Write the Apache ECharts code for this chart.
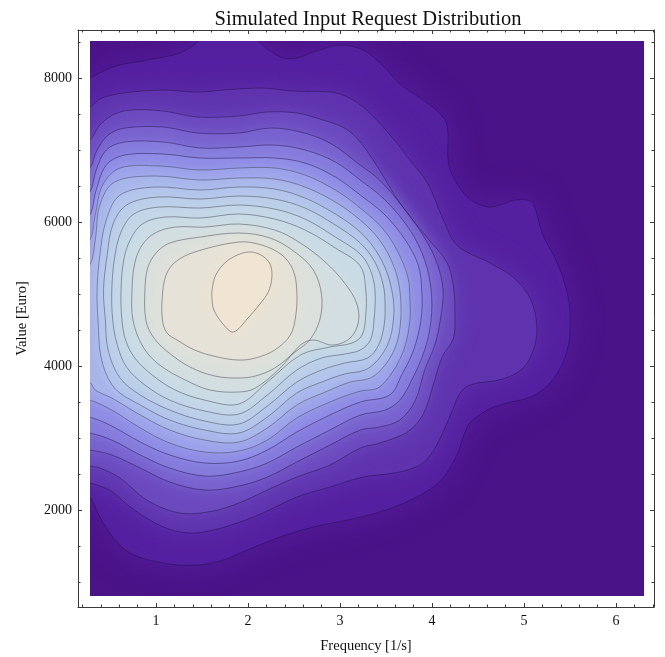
<!DOCTYPE html>
<html><head><meta charset="utf-8">
<script src="https://cdn.jsdelivr.net/npm/echarts@6/dist/echarts.min.js"></script>
<style>html,body{margin:0;padding:0;background:#fff}#c{width:665px;height:657px}</style>
</head><body><div id="c"></div>
<script>
// ---- tick values ----
const xMajorTicks = [1, 2, 3, 4, 5, 6];
const xMinorTicks = [0.2,0.4,0.6,0.8,1.2,1.4,1.6,1.8,2.2,2.4,2.6,2.8,3.2,3.4,3.6,3.8,4.2,4.4,4.6,4.8,5.2,5.4,5.6,5.8,6.2,6.4];
const yMajorTicks = [2000, 4000, 6000, 8000];
const yMinorTicks = [1000,1500,2500,3000,3500,4500,5000,5500,6500,7000,7500,8500];

// ---- contour lines of the density (outermost first), [frequency, value] ----
const contour1 = [[0.17,7972],[0.28,8000],[0.53,8153],[0.90,8250],[1.26,8347],[1.46,8514],[1.54,8666],[2.02,8666],[2.11,8514],[2.35,8292],[2.53,8278],[2.71,8361],[3.00,8458],[3.25,8389],[3.47,8167],[3.65,7917],[3.95,7653],[4.12,7458],[4.17,7305],[4.18,6805],[4.27,6541],[4.41,6319],[4.61,6208],[4.77,6250],[4.90,6305],[5.07,6291],[5.12,6194],[5.20,5833],[5.32,5541],[5.42,5236],[5.49,4875],[5.50,4527],[5.47,4222],[5.37,3916],[5.25,3722],[5.07,3569],[4.77,3472],[4.60,3388],[4.41,3208],[4.34,3013],[4.27,2764],[4.09,2402],[3.79,2152],[3.43,1972],[3.08,1861],[2.71,1764],[2.35,1625],[1.99,1444],[1.73,1305],[1.45,1236],[1.08,1264],[0.72,1402],[0.53,1625],[0.39,1902],[0.28,2180],[0.17,2208]];
const contour2 = [[0.17,7583],[0.28,7597],[0.39,7708],[0.53,7764],[0.72,7805],[1.08,7833],[1.45,7805],[1.73,7833],[2.16,7861],[2.49,7819],[2.89,7805],[3.08,7736],[3.29,7555],[3.58,7153],[3.76,6861],[3.95,6541],[4.12,6041],[4.27,5680],[4.63,5430],[4.88,5236],[5.07,4930],[5.14,4527],[5.10,4222],[4.99,3972],[4.77,3819],[4.41,3736],[4.30,3611],[4.20,3319],[4.05,2902],[3.90,2653],[3.65,2528],[3.25,2458],[2.89,2319],[2.53,2180],[2.16,1958],[1.88,1819],[1.62,1722],[1.37,1680],[1.08,1764],[0.72,2041],[0.53,2250],[0.39,2333],[0.28,2375],[0.17,2375]];
const contour3 = [[0.17,7125],[0.28,7139],[0.39,7347],[0.53,7486],[0.72,7555],[1.08,7541],[1.45,7458],[1.90,7472],[2.21,7528],[2.53,7514],[2.78,7430],[3.05,7305],[3.22,7111],[3.43,6722],[3.65,6264],[3.95,5778],[4.16,5444],[4.23,5125],[4.25,4722],[4.23,4375],[4.11,4125],[4.01,3722],[3.90,3319],[3.73,3083],[3.43,2930],[3.22,2861],[2.89,2625],[2.53,2458],[2.21,2278],[1.90,2097],[1.62,1986],[1.26,1958],[0.90,2139],[0.61,2444],[0.39,2583],[0.28,2611],[0.17,2611]];
const contour4 = [[0.17,6736],[0.28,6750],[0.36,7000],[0.48,7208],[0.66,7305],[1.08,7319],[1.45,7236],[1.90,7236],[2.24,7305],[2.57,7250],[2.89,7097],[3.22,6791],[3.43,6583],[3.71,6166],[3.92,5778],[4.05,5444],[4.12,5055],[4.09,4639],[4.03,4291],[3.92,3944],[3.82,3527],[3.65,3250],[3.43,3153],[3.22,3111],[2.89,2902],[2.53,2667],[2.21,2458],[1.90,2333],[1.53,2278],[1.15,2389],[0.83,2583],[0.52,2764],[0.28,2833],[0.17,2833]];
const contour5 = [[0.17,6403],[0.28,6416],[0.35,6722],[0.46,7000],[0.66,7111],[1.08,7111],[1.48,7028],[1.90,7041],[2.27,7069],[2.62,7000],[2.95,6833],[3.22,6583],[3.49,6305],[3.76,5889],[3.92,5472],[3.99,5055],[3.99,4639],[3.92,4222],[3.78,3805],[3.65,3527],[3.49,3388],[3.22,3319],[2.89,3111],[2.53,2875],[2.21,2653],[1.90,2528],[1.53,2472],[1.15,2583],[0.83,2764],[0.52,2972],[0.28,3069],[0.17,3069]];
const contour6 = [[0.17,6083],[0.28,6097],[0.35,6444],[0.46,6791],[0.66,6930],[1.08,6944],[1.48,6889],[1.90,6889],[2.29,6889],[2.62,6819],[2.95,6625],[3.22,6375],[3.49,6097],[3.71,5750],[3.85,5402],[3.89,5028],[3.88,4639],[3.80,4222],[3.67,3875],[3.54,3597],[3.22,3500],[2.89,3319],[2.53,3083],[2.21,2833],[1.90,2680],[1.53,2653],[1.15,2764],[0.83,2944],[0.52,3166],[0.28,3291],[0.17,3291]];
const contour7 = [[0.17,5736],[0.28,5750],[0.34,6097],[0.42,6514],[0.61,6750],[1.04,6778],[1.48,6722],[1.90,6750],[2.29,6750],[2.62,6652],[2.95,6444],[3.22,6194],[3.46,5916],[3.63,5583],[3.74,5222],[3.76,4916],[3.76,4639],[3.70,4250],[3.57,3916],[3.41,3694],[3.22,3652],[2.89,3500],[2.53,3278],[2.21,2972],[1.90,2819],[1.53,2805],[1.15,2930],[0.83,3139],[0.52,3388],[0.28,3527],[0.17,3527]];
const contour8 = [[0.17,5389],[0.28,5402],[0.34,5750],[0.39,6236],[0.55,6555],[0.99,6639],[1.48,6583],[1.90,6611],[2.29,6597],[2.62,6486],[2.95,6277],[3.22,6028],[3.43,5750],[3.58,5402],[3.65,5055],[3.66,4639],[3.61,4291],[3.49,4014],[3.33,3833],[3.11,3777],[2.84,3639],[2.53,3458],[2.21,3139],[1.90,2944],[1.53,2972],[1.15,3111],[0.83,3319],[0.52,3555],[0.34,3666],[0.28,3777],[0.17,3805]];
const contour9 = [[0.37,4639],[0.36,5055],[0.39,5541],[0.46,6028],[0.61,6375],[0.99,6486],[1.48,6444],[1.90,6486],[2.29,6458],[2.62,6333],[2.95,6111],[3.22,5861],[3.40,5583],[3.52,5264],[3.58,4916],[3.58,4639],[3.53,4333],[3.41,4083],[3.27,3944],[3.05,3889],[2.80,3777],[2.53,3625],[2.21,3291],[1.90,3069],[1.53,3111],[1.15,3250],[0.83,3458],[0.55,3694],[0.41,4083]];
const contour10 = [[0.45,4639],[0.43,5055],[0.47,5541],[0.53,5958],[0.68,6236],[1.02,6347],[1.48,6319],[1.90,6361],[2.29,6319],[2.62,6194],[2.95,5958],[3.22,5708],[3.38,5444],[3.47,5125],[3.49,4847],[3.48,4569],[3.42,4291],[3.30,4111],[3.05,4041],[2.80,3944],[2.53,3777],[2.21,3444],[1.90,3194],[1.53,3236],[1.15,3388],[0.83,3597],[0.61,3833],[0.48,4222]];
const contour11 = [[0.53,4639],[0.52,5055],[0.55,5500],[0.62,5861],[0.76,6111],[1.04,6208],[1.48,6194],[1.90,6236],[2.29,6180],[2.62,6041],[2.95,5791],[3.22,5555],[3.33,5333],[3.38,5055],[3.37,4639],[3.33,4361],[3.22,4222],[3.05,4166],[2.80,4111],[2.53,3944],[2.21,3597],[1.90,3333],[1.53,3375],[1.15,3527],[0.88,3736],[0.68,3986],[0.58,4291]];
const contour12 = [[0.63,4639],[0.62,5055],[0.65,5472],[0.72,5750],[0.85,5972],[1.10,6069],[1.48,6055],[1.90,6111],[2.29,6041],[2.62,5889],[2.95,5639],[3.22,5389],[3.28,5055],[3.28,4708],[3.24,4430],[3.13,4319],[2.89,4264],[2.57,4152],[2.21,3777],[1.90,3472],[1.53,3527],[1.21,3666],[0.96,3875],[0.77,4111],[0.67,4361]];
const contour13 = [[0.75,4639],[0.74,5055],[0.77,5430],[0.85,5680],[0.99,5847],[1.21,5930],[1.53,5930],[1.90,5972],[2.29,5889],[2.57,5708],[2.84,5444],[3.05,5153],[3.18,4875],[3.20,4611],[3.11,4389],[2.92,4291],[2.71,4361],[2.57,4291],[2.35,3972],[2.08,3694],[1.90,3639],[1.59,3666],[1.32,3805],[1.04,4014],[0.86,4264]];
const contour14 = [[0.89,4639],[0.88,5055],[0.91,5361],[1.00,5569],[1.15,5708],[1.48,5791],[1.90,5847],[2.24,5778],[2.51,5583],[2.71,5333],[2.80,4986],[2.78,4639],[2.67,4361],[2.51,4194],[2.29,3972],[2.08,3861],[1.90,3833],[1.64,3861],[1.37,3986],[1.13,4194],[0.97,4402]];
const contour15 = [[1.07,4639],[1.07,4986],[1.11,5264],[1.21,5444],[1.42,5583],[1.90,5722],[2.15,5680],[2.37,5541],[2.49,5333],[2.53,5055],[2.52,4708],[2.46,4430],[2.29,4222],[2.08,4111],[1.90,4083],[1.67,4125],[1.42,4222],[1.23,4361],[1.12,4458]];
const contour16 = [[1.61,4916],[1.61,5055],[1.65,5264],[1.76,5444],[1.91,5555],[2.04,5583],[2.16,5527],[2.24,5416],[2.26,5236],[2.22,5028],[2.13,4861],[2.00,4666],[1.84,4472],[1.72,4597],[1.63,4778]];

const contours = [contour1,contour2,contour3,contour4,contour5,contour6,contour7,contour8,
                  contour9,contour10,contour11,contour12,contour13,contour14,contour15,contour16];
// fill colour of the area inside each contour, and the softening of each band edge
const bandColors = ['#5420a0','#5f33ae','#6b4abe','#7862ce','#857bdc','#8f8ce5','#9ca2ea','#a8b5eb',
                    '#b2c4eb','#bbcee9','#c2d6e8','#c9dbe5','#d2dee1','#dbe0dc','#e6e2d7','#efe5d2'];
const bandSoftness = [30,26,20,16,12,10,10,10,10,10,10,10,12,14,16,20];
const lowColor = '#4b1388';

// ---- layout ranges (frame and density area share one linear scale) ----
const FRAME_X = [0.152, 6.413], FRAME_Y = [653, 8667];
const PLOT_X = [0.283, 6.304], PLOT_Y = [806, 8514];

const FONT = 'Liberation Serif';
const AX = '#3a3a3a';
function xAx(pos, ticks, len, opts) {
  return Object.assign({
    gridIndex: 0, type: 'value', position: pos, min: FRAME_X[0], max: FRAME_X[1],
    axisLine: { show: false, onZero: false },
    axisTick: { show: true, inside: true, length: len, customValues: ticks, lineStyle: { color: AX, width: 1 } },
    axisLabel: { show: false }, splitLine: { show: false }
  }, opts || {});
}
function yAx(pos, ticks, len, opts) {
  return Object.assign({
    gridIndex: 0, type: 'value', position: pos, min: FRAME_Y[0], max: FRAME_Y[1],
    axisLine: { show: false, onZero: false },
    axisTick: { show: true, inside: true, length: len, customValues: ticks, lineStyle: { color: AX, width: 1 } },
    axisLabel: { show: false }, splitLine: { show: false }
  }, opts || {});
}
const lineOn = { show: true, onZero: false, lineStyle: { color: AX, width: 1 } };

function contourSeries(pts, i, asLine) {
  return {
    type: 'custom', xAxisIndex: 4, yAxisIndex: 4, clip: true, silent: true,
    data: pts,
    renderItem: function (params, api) {
      if (params.dataIndexInside !== 0) return null;
      const n = params.dataInsideLength;
      const p = [];
      for (let k = 0; k < n; k++) p.push(api.coord([api.value(0, k), api.value(1, k)]));
      const style = asLine
        ? { fill: null, stroke: i < 6 ? 'rgba(35,15,65,0.6)' : 'rgba(60,60,75,0.6)', lineWidth: 0.8 }
        : { fill: bandColors[i], shadowBlur: bandSoftness[i], shadowColor: bandColors[i] };
      return { type: 'polygon', shape: { points: p, smooth: 0.35 }, style: style };
    }
  };
}
const series = contours.map((pts, i) => contourSeries(pts, i, false))
  .concat(contours.map((pts, i) => contourSeries(pts, i, true)));

const chart = echarts.init(document.getElementById('c'), null, { renderer: 'canvas' });
chart.setOption({
  animation: false,
  backgroundColor: '#ffffff',
  title: {
    text: 'Simulated Input Request Distribution', left: 363, top: 4, textAlign: 'center',
    textStyle: { fontFamily: FONT, fontSize: 20.5, fontWeight: 'normal', color: '#111' }
  },
  grid: [
    { left: 78, top: 30, width: 576, height: 577, show: false, containLabel: false, outerBoundsMode: 'none' },
    { left: 90, top: 41, width: 554, height: 555, show: true, backgroundColor: lowColor, borderWidth: 0, containLabel: false, outerBoundsMode: 'none' }
  ],
  xAxis: [
    xAx('bottom', xMajorTicks, 4, {
      axisLine: lineOn,
      axisLabel: { show: true, customValues: xMajorTicks, formatter: v => String(v), fontFamily: FONT, fontSize: 14, color: '#111', margin: 7 },
      name: 'Frequency [1/s]', nameLocation: 'middle', nameGap: 32,
      nameTextStyle: { fontFamily: FONT, fontSize: 14.5, color: '#111' }
    }),
    xAx('bottom', xMinorTicks, 2.5),
    xAx('top', xMajorTicks, 4, { axisLine: lineOn }),
    xAx('top', xMinorTicks, 2.5),
    { gridIndex: 1, type: 'value', min: PLOT_X[0], max: PLOT_X[1], show: false }
  ],
  yAxis: [
    yAx('left', yMajorTicks, 4, {
      axisLine: lineOn,
      axisLabel: { show: true, customValues: yMajorTicks, formatter: v => String(v), fontFamily: FONT, fontSize: 14, color: '#111', margin: 6 },
      name: 'Value [Euro]', nameLocation: 'middle', nameGap: 48,
      nameTextStyle: { fontFamily: FONT, fontSize: 14.5, color: '#111' }
    }),
    yAx('left', yMinorTicks, 2.5),
    yAx('right', yMajorTicks, 4, { axisLine: lineOn }),
    yAx('right', yMinorTicks, 2.5),
    { gridIndex: 1, type: 'value', min: PLOT_Y[0], max: PLOT_Y[1], show: false }
  ],
  series: series
});
</script>
</body></html>
